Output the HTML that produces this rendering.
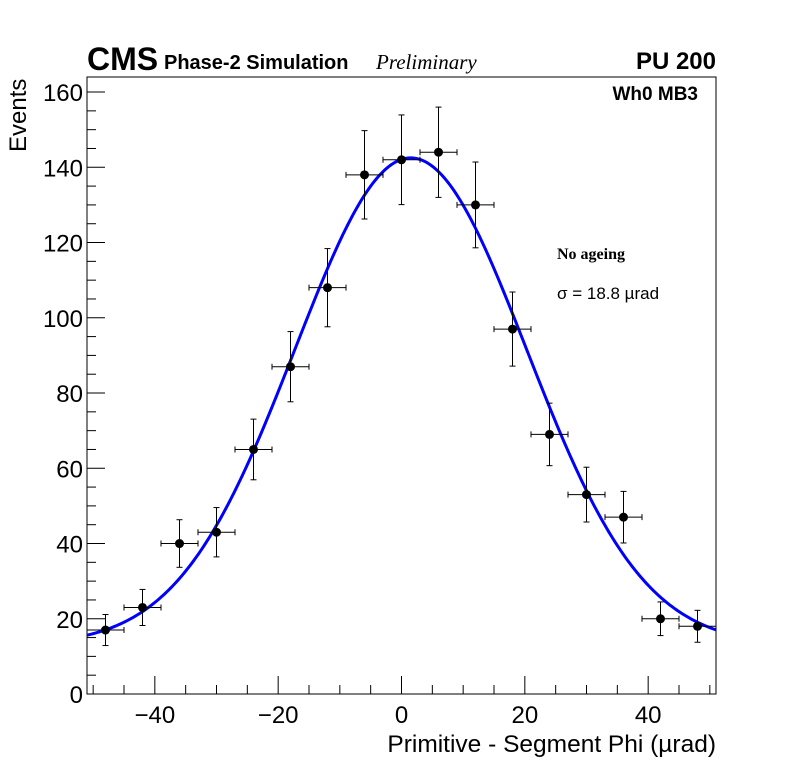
<!DOCTYPE html>
<html><head><meta charset="utf-8"><style>
html,body{margin:0;padding:0;background:#fff;}
svg{display:block;font-family:"Liberation Sans",sans-serif;}
</style></head><body>
<svg id="chart" width="796" height="772" viewBox="0 0 796 772">
<rect x="87" y="77" width="629" height="617" fill="none" stroke="#000" stroke-width="1"/>
<g id="ticks"></g>
<g id="labels" font-size="24"></g>
<g id="fit"></g>
<g id="pts"></g>
<text x="87" y="70" font-size="32" font-weight="bold">CMS</text>
<text x="164" y="69" font-size="20" font-weight="bold">Phase-2 Simulation</text>
<text x="376" y="69" font-size="21" font-style="italic" font-family="Liberation Serif, serif">Preliminary</text>
<text x="716" y="69" font-size="24" font-weight="bold" text-anchor="end">PU 200</text>
<text x="698" y="100" font-size="19" font-weight="bold" text-anchor="end">Wh0 MB3</text>
<text x="557" y="259" font-size="16" font-weight="bold" font-family="Liberation Serif, serif">No ageing</text>
<text x="557" y="299" font-size="17">σ = 18.8  µrad</text>
<text x="716" y="752" font-size="24.5" text-anchor="end">Primitive - Segment Phi (µrad)</text>
<text transform="translate(26,152) rotate(-90)" font-size="24">Events</text>
</svg>
<script>
const binCenters=[-48,-42,-36,-30,-24,-18,-12,-6,0,6,12,18,24,30,36,42,48];
const counts=[17,23,40,43,65,87,108,138,142,144,130,97,69,53,47,20,18];
const xTickLabels=[-40,-20,0,20,40];
const yTickLabels=[0,20,40,60,80,100,120,140,160];
const fitParams=[13,129.5,1.5,18.8]; // const, amplitude, mean, sigma
const binHalfWidth=3;
const X0=87,X1=716,Y0=694,Y1=77,xmin=-51,xmax=51,ymin=0,ymax=164;
const sx=v=>X0+(v-xmin)/(xmax-xmin)*(X1-X0);
const sy=v=>Y0-(v-ymin)/(ymax-ymin)*(Y0-Y1);
const NS="http://www.w3.org/2000/svg";
function mk(tag,attrs,parent){const e=document.createElementNS(NS,tag);for(const k in attrs)e.setAttribute(k,attrs[k]);parent.appendChild(e);return e;}
const ticks=document.getElementById('ticks'),labels=document.getElementById('labels');
for(let v=-50;v<=50;v+=5){const maj=v%20===0;const t=mk('line',{x1:sx(v),x2:sx(v),y1:Y0,y2:Y0-(maj?18:9),stroke:'#000'},ticks);

}
for(let v=0;v<=160;v+=5){const maj=v%20===0;const t=mk('line',{x1:X0,x2:X0+(maj?18:9),y1:sy(v),y2:sy(v),stroke:'#000'},ticks);

}
xTickLabels.forEach(v=>{const t=mk('text',{x:sx(v),y:723,'text-anchor':'middle'},labels);t.textContent=(v<0?'\u2212'+(-v):v);

});
yTickLabels.forEach(v=>{const t=mk('text',{x:83,y:sy(v)+9,'text-anchor':'end'},labels);t.textContent=v;

});
const [c,A,mu,s]=fitParams;let d='';
for(let i=0;i<=300;i++){const x=xmin+(xmax-xmin)*i/300;const y=c+A*Math.exp(-(x-mu)*(x-mu)/(2*s*s));d+=(i?'L':'M')+sx(x).toFixed(2)+','+sy(y).toFixed(2);}
const fp=mk('path',{d:d,fill:'none',stroke:'#0000ff','stroke-width':3},document.getElementById('fit'));


const pts=document.getElementById('pts');
binCenters.forEach((x,i)=>{const n=counts[i],e=Math.sqrt(n);const g=mk('g',{},pts);


mk('line',{x1:sx(x-binHalfWidth),x2:sx(x+binHalfWidth),y1:sy(n),y2:sy(n),stroke:'#000'},g);
mk('line',{x1:sx(x),x2:sx(x),y1:sy(n-e),y2:sy(n+e),stroke:'#000'},g);
[x-binHalfWidth,x+binHalfWidth].forEach(xx=>mk('line',{x1:sx(xx),x2:sx(xx),y1:sy(n)-3,y2:sy(n)+3,stroke:'#000'},g));
[n-e,n+e].forEach(yy=>mk('line',{x1:sx(x)-3,x2:sx(x)+3,y1:sy(yy),y2:sy(yy),stroke:'#000'},g));
mk('circle',{cx:sx(x),cy:sy(n),r:4.5,fill:'#000'},g);});
</script>
</body></html>
